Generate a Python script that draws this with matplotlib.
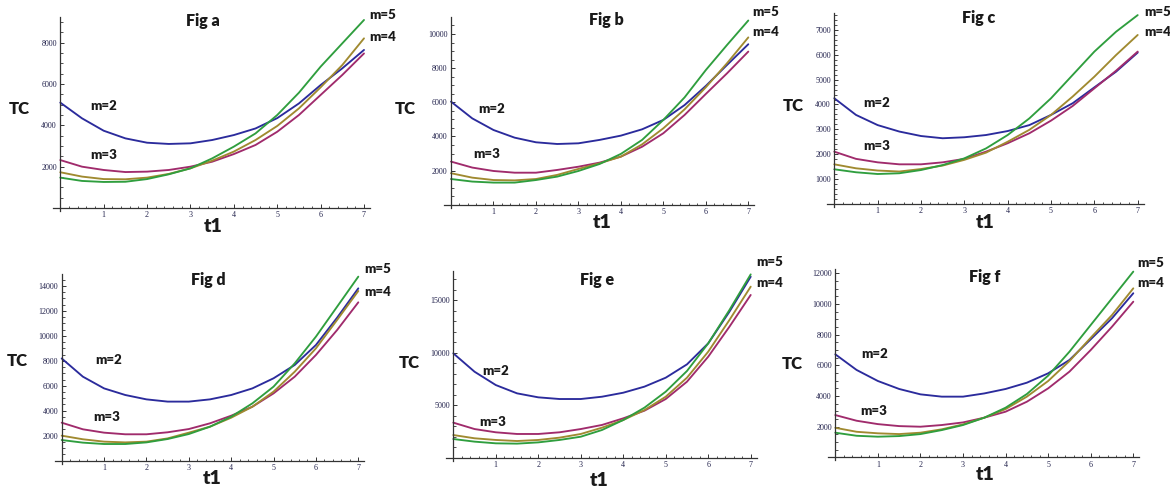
import matplotlib
matplotlib.use("Agg")
import matplotlib.pyplot as plt
import numpy as np

W, H = 1170, 488

t1 = [0, 0.5, 1, 1.5, 2, 2.5, 3, 3.5, 4, 4.5, 5, 5.5, 6, 6.5, 7]

# ---- Fig a ----
a_m2 = [5100, 4340, 3740, 3370, 3160, 3100, 3130, 3290, 3530, 3850, 4350, 5060, 5950, 6760, 7650]
a_m3 = [2320, 2000, 1840, 1740, 1760, 1840, 2000, 2240, 2610, 3050, 3690, 4500, 5470, 6440, 7480]
a_m4 = [1730, 1520, 1400, 1390, 1470, 1650, 1920, 2290, 2730, 3290, 3970, 4820, 5840, 6920, 8210]
a_m5 = [1470, 1310, 1260, 1270, 1400, 1630, 1920, 2400, 2970, 3610, 4500, 5580, 6840, 7970, 9100]
a_yticks = [2000, 4000, 6000, 8000]

# ---- Fig b ----
b_m2 = [6040, 5060, 4380, 3930, 3660, 3560, 3600, 3800, 4050, 4420, 4970, 5840, 6960, 8190, 9400]
b_m3 = [2530, 2180, 1980, 1880, 1880, 2040, 2230, 2470, 2820, 3400, 4190, 5260, 6490, 7700, 8970]
b_m4 = [1850, 1590, 1450, 1430, 1510, 1750, 2100, 2430, 2820, 3540, 4480, 5590, 6880, 8290, 9800]
b_m5 = [1510, 1360, 1300, 1300, 1450, 1650, 1980, 2390, 2980, 3800, 4970, 6290, 7890, 9360, 10790]
b_yticks = [2000, 4000, 6000, 8000, 10000]

# ---- Fig c ----
c_m2 = [4250, 3580, 3170, 2910, 2730, 2640, 2680, 2770, 2930, 3170, 3580, 4050, 4690, 5320, 6090]
c_m3 = [2100, 1810, 1670, 1590, 1590, 1670, 1810, 2100, 2440, 2840, 3350, 3940, 4650, 5360, 6130]
c_m4 = [1590, 1430, 1340, 1300, 1400, 1540, 1770, 2060, 2500, 2980, 3580, 4320, 5120, 5990, 6800]
c_m5 = [1390, 1270, 1200, 1230, 1360, 1560, 1830, 2230, 2770, 3440, 4250, 5190, 6130, 6930, 7600]
c_yticks = [1000, 2000, 3000, 4000, 5000, 6000, 7000]

# ---- Fig d ----
d_m2 = [8190, 6730, 5790, 5260, 4910, 4730, 4730, 4910, 5260, 5790, 6600, 7670, 9270, 11460, 13810]
d_m3 = [3040, 2510, 2240, 2110, 2110, 2270, 2530, 2990, 3600, 4320, 5390, 6730, 8470, 10470, 12690]
d_m4 = [2000, 1710, 1520, 1460, 1520, 1780, 2240, 2720, 3440, 4320, 5530, 7130, 9000, 11280, 13600]
d_m5 = [1650, 1440, 1330, 1330, 1460, 1730, 2130, 2720, 3520, 4590, 5930, 7800, 9940, 12340, 14750]
d_yticks = [2000, 4000, 6000, 8000, 10000, 12000, 14000]

# ---- Fig e ----
e_m2 = [9920, 8170, 6900, 6110, 5730, 5570, 5570, 5790, 6170, 6750, 7600, 8870, 10870, 13890, 17220]
e_m3 = [3320, 2710, 2400, 2240, 2240, 2400, 2710, 3100, 3730, 4460, 5570, 7220, 9600, 12460, 15480]
e_m4 = [2140, 1830, 1670, 1570, 1670, 1890, 2240, 2840, 3570, 4520, 5790, 7600, 10080, 13100, 16270]
e_m5 = [1760, 1510, 1350, 1320, 1440, 1670, 1980, 2620, 3570, 4750, 6270, 8240, 10870, 14050, 17440]
e_yticks = [5000, 10000, 15000]

# ---- Fig f ----
f_m2 = [6720, 5700, 4980, 4460, 4110, 3960, 3960, 4170, 4460, 4870, 5480, 6350, 7700, 9070, 10700]
f_m3 = [2760, 2390, 2170, 2040, 2000, 2110, 2280, 2590, 2980, 3630, 4500, 5590, 7000, 8520, 10150]
f_m4 = [1930, 1670, 1570, 1520, 1610, 1830, 2150, 2590, 3150, 3960, 4980, 6280, 7800, 9280, 11020]
f_m5 = [1610, 1410, 1350, 1390, 1520, 1780, 2110, 2590, 3240, 4130, 5330, 6890, 8630, 10370, 12110]
f_yticks = [2000, 4000, 6000, 8000, 10000, 12000]

xticks = [1, 2, 3, 4, 5, 6, 7]
series_labels = ["m=2", "m=3", "m=4", "m=5"]
titles = ["Fig a", "Fig b", "Fig c", "Fig d", "Fig e", "Fig f"]

colors = ["#2b2b9c", "#a02b6c", "#a08a30", "#2f9e3e"]

# layout (pixels): x of t=0, x of t=7, y of TC=0, (ref pixel, ref value), top of axis
geom = [
    dict(x0=60.3, x7=364.0, y0=208.0, yr=(42.7, 8000), ytop=17, minor=500),
    dict(x0=451.0, x7=748.3, y0=204.8, yr=(34.0, 10000), ytop=17, minor=500),
    dict(x0=834.3, x7=1137.7, y0=203.8, yr=(30.0, 7000), ytop=13, minor=200),
    dict(x0=61.7, x7=358.3, y0=460.6, yr=(286.0, 14000), ytop=274, minor=500),
    dict(x0=453.3, x7=750.7, y0=457.5, yr=(300.0, 15000), ytop=271, minor=1000),
    dict(x0=835.3, x7=1133.3, y0=457.4, yr=(273.3, 12000), ytop=269, minor=500),
]
data = [
    (a_m2, a_m3, a_m4, a_m5, a_yticks),
    (b_m2, b_m3, b_m4, b_m5, b_yticks),
    (c_m2, c_m3, c_m4, c_m5, c_yticks),
    (d_m2, d_m3, d_m4, d_m5, d_yticks),
    (e_m2, e_m3, e_m4, e_m5, e_yticks),
    (f_m2, f_m3, f_m4, f_m5, f_yticks),
]
# label positions (data coords): m=2, m=3, m=5, m=4
lab_pos = [
    [(0.70, 4940), (0.70, 2560), (7.13, 9340), (7.13, 8290)],
    [(0.63, 5610), (0.53, 2980), (7.10, 11310), (7.10, 10100)],
    [(0.67, 4050), (0.67, 2330), (7.15, 7710), (7.15, 6910)],
    [(0.80, 8070), (0.75, 3520), (7.14, 15360), (7.14, 13550)],
    [(0.67, 8270), (0.61, 3410), (7.13, 18590), (7.13, 16590)],
    [(0.62, 6720), (0.58, 3040), (7.09, 12650), (7.09, 11390)],
]
title_pos = [(203, 21), (606, 20), (979, 18), (208, 280), (597, 280), (985, 277)]
tc_pos = [(19, 109), (405, 109), (793, 106), (17, 361), (409, 363), (792, 364)]
t1_pos = [(213, 227), (602, 223), (985, 222), (212, 478), (599, 480), (985, 474)]

fig = plt.figure(figsize=(W / 100, H / 100), dpi=100)
fig.patch.set_facecolor("white")

bold_font = ["Lato", "DejaVu Sans"]

for i in range(6):
    g = geom[i]
    m2, m3, m4, m5, yt = data[i]
    pxu = (g["x7"] - g["x0"]) / 7.0
    pyu = (g["y0"] - g["yr"][0]) / g["yr"][1]
    left_px = g["x0"] - 7
    right_px = g["x7"] + 6
    bot_px = g["y0"] + 3
    top_px = g["ytop"]
    ax = fig.add_axes([left_px / W, 1 - bot_px / H, (right_px - left_px) / W, (bot_px - top_px) / H])
    ax.set_xlim(-7 / pxu, 7 + 6 / pxu)
    ax.set_ylim(-3 / pyu, (g["y0"] - top_px) / pyu)
    ax.patch.set_alpha(0)

    for ys, c in zip([m2, m3, m4, m5], colors):
        ax.plot(t1, ys, color=c, lw=1.35, solid_capstyle="round", solid_joinstyle="round",
                clip_on=False)

    for sp in ["top", "right"]:
        ax.spines[sp].set_visible(False)
    ax.spines["left"].set_position(("data", 0))
    ax.spines["bottom"].set_position(("data", 0))
    for sp in ["left", "bottom"]:
        ax.spines[sp].set_linewidth(0.9)
        ax.spines[sp].set_color("#333333")

    ax.set_xticks(xticks)
    ax.set_xticks([k * 0.2 for k in range(1, 36) if k % 5 != 0], minor=True)
    ax.set_yticks(yt)
    ymax = (g["y0"] - top_px) / pyu
    step = g["minor"]
    ax.set_yticks([v for v in np.arange(step, ymax, step) if all(abs(v - t) > 1 for t in yt)], minor=True)
    ax.set_xticklabels([str(v) for v in xticks])
    ax.set_yticklabels([str(v) for v in yt])
    ax.tick_params(axis="both", which="major", direction="in", length=3.2, width=0.7,
                   color="#333333", labelsize=5.8, labelcolor="#23234d", pad=2.5)
    ax.tick_params(axis="both", which="minor", direction="in", length=1.8, width=0.6, color="#333333")
    for lab in ax.get_xticklabels() + ax.get_yticklabels():
        lab.set_family(["Liberation Serif", "DejaVu Serif"])

    for (lx, ly), txt in zip(lab_pos[i], ["m=2", "m=3", "m=5", "m=4"]):
        ax.text(lx, ly, txt, fontsize=9.5, fontweight="heavy", family=bold_font,
                ha="left", va="center", color="#1a1a1a", clip_on=False)

    tx, ty = title_pos[i]
    fig.text(tx / W, 1 - ty / H, titles[i], fontsize=11.5, fontweight="heavy", family=bold_font,
             ha="center", va="center", color="#1a1a1a")
    cx, cy = tc_pos[i]
    fig.text(cx / W, 1 - cy / H, "TC", fontsize=12, fontweight="heavy", family=bold_font,
             ha="center", va="center", color="#1a1a1a")
    sx, sy = t1_pos[i]
    fig.text(sx / W, 1 - sy / H, "t1", fontsize=14, fontweight="heavy", family=bold_font,
             ha="center", va="center", color="#1a1a1a")

fig.savefig("out.png", dpi=100, facecolor="white")
